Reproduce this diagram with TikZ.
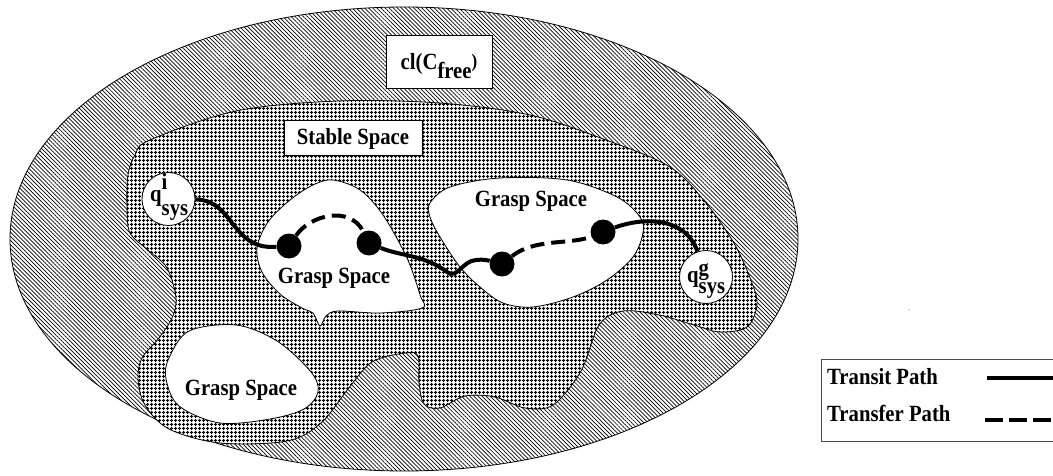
\documentclass[tikz,border=0pt]{standalone}
\usepackage{fontspec}
\usepackage{graphicx}
\setmainfont{Liberation Serif}
\usetikzlibrary{patterns.meta}
\newcommand{\talltext}[1]{\scalebox{1}[1.12]{#1}}
\begin{document}
\begin{tikzpicture}[x=1pt,y=-1pt,
  lbl/.style={font=\fontsize{20.7}{24}\selectfont\bfseries, inner sep=0pt},
  region/.style={draw=black, line width=0.8pt},
  gs/.style={region, fill=white},
  transit/.style={line width=4pt},
  transfer/.style={line width=4pt, dash pattern=on 14pt off 7pt},
  dot/.style={circle, fill=black, minimum size=25pt, inner sep=0pt},
  qnode/.style={circle, draw=black, line width=0.8pt, fill=white, minimum size=53pt, inner sep=0pt},
  labelbox/.style={draw=black, line width=0.8pt, fill=white, inner sep=0pt},
]
\useasboundingbox (0,0) rectangle (1053,476);
\clip (0,0) rectangle (1053,476);
% closure of free space
\draw[region, fill=white, postaction={pattern={Lines[angle=-45,distance=2.9pt,line width=0.7pt]}}]
  (404,239) ellipse [x radius=394, y radius=232];
% stable space
\draw[region, fill=white, postaction={pattern={Hatch[angle=0,distance=4pt,line width=1.4pt]}}]
  plot[smooth cycle, tension=0.55] coordinates {
  (150,140) (236,111) (338,101) (439,103) (530,115) (606,140) (670,167) (706,203)
  (735,245) (752,283) (757,305) (747,327) (720,332) (694,325) (659,315) (623,311)
  (599,325) (581,371) (553,405) (525,408) (495,397) (465,396) (440,408) (424,404)
  (419,382) (418,356) (405,353) (372,362) (348,389) (321,423) (287,441) (220,443)
  (169,429) (145,405) (138,379) (142,358) (159,338) (172,318) (176,298) (167,268)
  (148,250) (130,233) (127,207) (128,175) (135,155)};
% grasp spaces
\draw[gs] plot[smooth cycle, tension=0.55] coordinates {
  (333,180) (360,190) (383,215) (407,258) (420,295) (422,308) (380,313) (338,311)
  (326,316) (320,326) (313,313) (302,308) (280,294) (262,272) (257,248) (268,222)
  (290,200) (313,185)};
\draw[gs] plot[smooth cycle, tension=0.55] coordinates {
  (430,203) (450,187) (500,178) (567,180) (617,197) (640,217) (643,233) (633,257)
  (607,280) (573,297) (533,307) (503,303) (480,287) (460,267) (440,237) (430,217)};
\draw[gs] plot[smooth cycle, tension=0.55] coordinates {
  (169,358) (189,331) (236,325) (277,341) (311,372) (318,392) (304,409) (270,419)
  (220,423) (179,406) (166,379)};
% labels
\node[labelbox, minimum width=106pt, minimum height=53pt] (clbox) at (439,61.5) {};
\node[lbl, anchor=base] (cltext) at (439,70) {\talltext{cl(C\raisebox{-8pt}{free}\raisebox{2pt}{\fontsize{17}{17}\selectfont )}}};
\node[labelbox, minimum width=138pt, minimum height=35pt] (stablebox) at (353,137.5) {};
\node[lbl, anchor=base] (stabletext) at (353,145) {\talltext{Stable Space}};
\node[lbl, anchor=base] (gs1) at (334,283) {\talltext{Grasp Space}};
\node[lbl, anchor=base] (gs2) at (531,207) {\talltext{Grasp Space}};
\node[lbl, anchor=base] (gs3) at (241,395.5) {\talltext{Grasp Space}};
% start and goal
\node[qnode] (qi) at (168.5,199) {};
\node[lbl, anchor=base west] (qitext) at (150,202) {\talltext{q\rlap{\raisebox{11pt}{i}}\raisebox{-12pt}{sys}}};
\node[qnode] (qg) at (706,277) {};
\node[lbl, anchor=base west] (qgtext) at (687,282) {\talltext{q\rlap{\raisebox{6pt}{g}}\raisebox{-10pt}{sys}}};
% grasp points
\node[dot] (d1) at (289,246) {};
\node[dot] (d2) at (369,243) {};
\node[dot] (d3) at (502,264) {};
\node[dot] (d4) at (603,232) {};
% paths
\draw[transit] (qi) .. controls (235,200) and (230,250) .. (d1);
\draw[transfer] (d1) .. controls (310,215) and (350,205) .. (d2);
\draw[transit] (d2) .. controls (400,256) and (425,255) .. (447,272)
  .. controls (457,280) and (462,261) .. (476,260) .. controls (485,259) and (490,261) .. (d3);
\draw[transfer] (d3) .. controls (535,238) and (570,245) .. (d4);
\draw[transit] (d4) .. controls (640,218) and (685,215) .. (qg);
% stray mark
\fill[black!60] (909,310) circle (0.7pt);
% legend
\node[draw=black!70, line width=0.8pt, minimum width=250pt, minimum height=82pt, inner sep=0pt] (legend) at (946,400) {};
\node[lbl, anchor=base west] (lt1) at (827,384) {\talltext{Transit Path}};
\node[lbl, anchor=base west] (lt2) at (827,421) {\talltext{Transfer Path}};
\coordinate (ls1) at (987,378);
\coordinate (le1) at (1053,378);
\coordinate (ls2) at (985,420);
\coordinate (le2) at (1053,420);
\draw[transit] (ls1) -- (le1);
\draw[line width=4pt, dash pattern=on 18pt off 6pt] (ls2) -- (le2);
\end{tikzpicture}
\end{document}
